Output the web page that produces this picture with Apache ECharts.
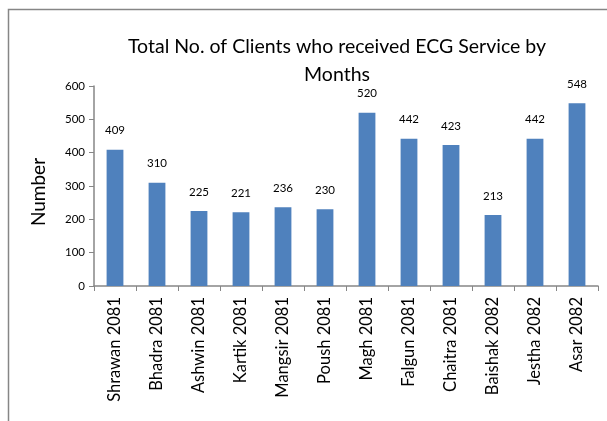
<!DOCTYPE html>
<html>
<head>
<meta charset="utf-8">
<script src="https://cdn.jsdelivr.net/npm/echarts@6/dist/echarts.min.js"></script>
<style>
  html, body { margin: 0; padding: 0; background: #fff; }
  #chart { width: 607px; height: 421px; }
</style>
</head>
<body>
<div id="chart"></div>
<script>
var months = ['Shrawan 2081', 'Bhadra 2081', 'Ashwin 2081', 'Kartik 2081', 'Mangsir 2081', 'Poush 2081',
  'Magh 2081', 'Falgun 2081', 'Chaitra 2081', 'Baishak 2082', 'Jestha 2082', 'Asar 2082'];
var clients = [409, 310, 225, 221, 236, 230, 520, 442, 423, 213, 442, 548];
var yTicks = { min: 0, max: 600, step: 100 };

var chart = echarts.init(document.getElementById('chart'));
var font = 'Lato, "Open Sans", sans-serif';
var axisGray = '#868686';

chart.setOption({
  animation: false,
  textStyle: { fontFamily: font },
  title: {
    text: 'Total No. of Clients who received ECG Service by\nMonths',
    left: 332,
    top: 28,
    textAlign: 'center',
    textStyle: { fontSize: 19.5, fontWeight: 'normal', color: '#000', lineHeight: 28, fontFamily: font }
  },
  graphic: [{
    type: 'rect',
    shape: { x: 8.5, y: 9.5, width: 700, height: 500 },
    style: { fill: 'none', stroke: axisGray, lineWidth: 1.5 },
    silent: true
  }],
  grid: { left: 94, right: 9, top: 86, bottom: 135, containLabel: false },
  xAxis: {
    type: 'category',
    data: months,
    axisLine: { lineStyle: { color: axisGray, width: 1.5 } },
    axisTick: { show: true, length: 5, lineStyle: { color: axisGray } },
    axisLabel: { rotate: 90, fontSize: 16.5, color: '#000', margin: 11, interval: 0 }
  },
  yAxis: {
    type: 'value',
    min: yTicks.min,
    max: yTicks.max,
    interval: yTicks.step,
    name: 'Number',
    nameLocation: 'middle',
    nameRotate: 90,
    nameGap: 46,
    nameTextStyle: { fontSize: 19, color: '#000', padding: [0, 12, 0, 0] },
    axisLine: { show: true, lineStyle: { color: axisGray, width: 1.5 } },
    axisTick: { show: true, length: 5, lineStyle: { color: axisGray } },
    splitLine: { show: false },
    axisLabel: { fontSize: 11.5, color: '#000', margin: 9 }
  },
  series: [{
    type: 'bar',
    data: clients,
    barWidth: '40%',
    itemStyle: { color: '#4f81bd' },
    label: { show: true, position: 'top', distance: 13, fontSize: 11.5, color: '#000' }
  }]
});
</script>
</body>
</html>
